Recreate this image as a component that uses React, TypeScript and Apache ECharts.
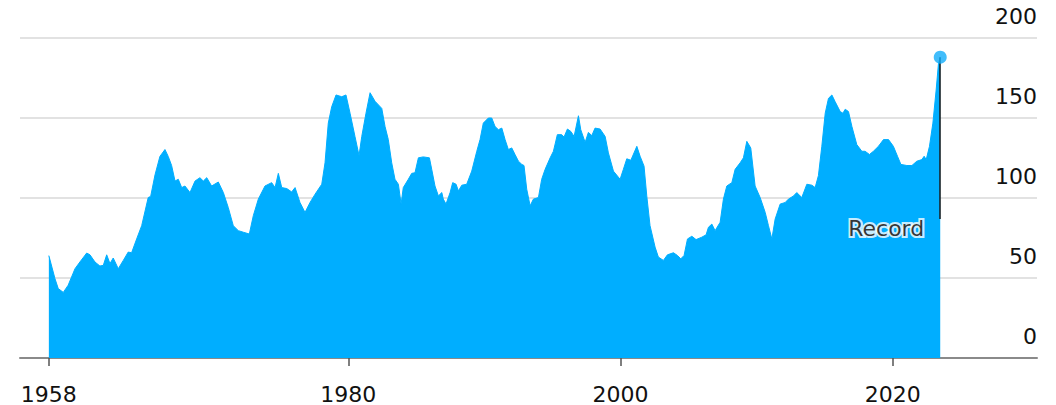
import React, { useEffect, useRef } from "react";
import * as echarts from "echarts";

const years = [
  1958.0, 1958.45, 1958.69, 1959.06, 1959.42, 1959.92, 1960.28, 1960.78, 1961.02, 1961.39,
  1961.75, 1962.0, 1962.25, 1962.49, 1962.73, 1963.1, 1963.47, 1963.83, 1964.08, 1964.45,
  1964.82, 1965.3, 1965.48, 1965.8, 1966.16, 1966.53, 1966.77, 1967.02, 1967.27, 1967.51,
  1967.76, 1968.0, 1968.37, 1968.74, 1969.1, 1969.35, 1969.6, 1969.96, 1970.45, 1970.82,
  1971.18, 1971.55, 1971.92, 1972.29, 1972.73, 1973.02, 1973.39, 1973.88, 1974.37, 1974.62,
  1974.86, 1975.11, 1975.48, 1975.84, 1976.09, 1976.45, 1976.82, 1977.19, 1977.56, 1978.05,
  1978.29, 1978.53, 1978.78, 1979.1, 1979.52, 1979.83, 1980.13, 1980.49, 1980.79, 1980.99,
  1981.3, 1981.6, 1981.96, 1982.46, 1982.7, 1982.94, 1983.19, 1983.43, 1983.68, 1983.88,
  1984.04, 1984.41, 1984.66, 1984.9, 1985.15, 1985.51, 1985.96, 1986.13, 1986.37, 1986.62,
  1986.87, 1986.98, 1987.18, 1987.48, 1987.67, 1987.92, 1988.09, 1988.34, 1988.7, 1989.07,
  1989.44, 1989.68, 1989.92, 1990.29, 1990.54, 1990.78, 1991.03, 1991.28, 1991.52, 1991.76,
  1992.01, 1992.25, 1992.5, 1992.75, 1992.91, 1993.11, 1993.36, 1993.6, 1993.97, 1994.21,
  1994.46, 1994.83, 1995.07, 1995.36, 1995.68, 1995.85, 1996.1, 1996.35, 1996.59, 1996.91,
  1997.08, 1997.4, 1997.64, 1997.89, 1998.13, 1998.5, 1998.87, 1999.11, 1999.48, 1999.97,
  2000.21, 2000.46, 2000.76, 2001.2, 2001.44, 2001.73, 2001.93, 2002.17, 2002.54, 2002.78,
  2003.15, 2003.45, 2003.89, 2004.18, 2004.43, 2004.67, 2004.92, 2005.24, 2005.55, 2005.97,
  2006.29, 2006.46, 2006.71, 2006.95, 2007.32, 2007.56, 2007.81, 2008.18, 2008.42, 2008.79,
  2009.03, 2009.28, 2009.57, 2009.89, 2010.26, 2010.63, 2010.87, 2011.12, 2011.36, 2011.73,
  2012.1, 2012.34, 2012.71, 2012.95, 2013.32, 2013.69, 2014.06, 2014.3, 2014.54, 2014.79,
  2015.04, 2015.28, 2015.53, 2015.77, 2016.14, 2016.34, 2016.51, 2016.75, 2017.0, 2017.36,
  2017.73, 2017.97, 2018.29, 2018.58, 2018.95, 2019.32, 2019.69, 2020.05, 2020.35, 2020.6,
  2021.04, 2021.41, 2021.77, 2022.14, 2022.31, 2022.46, 2022.7, 2022.95, 2023.19, 2023.36,
  2023.49,
];

const values = [
  64, 49.6, 43.4, 41, 45.5, 55.8, 60, 65.6, 64.5, 60,
  57.5, 57.9, 64.5, 59, 62.5, 55.8, 61, 66.2, 65.8, 74.4,
  82.7, 100.3, 101, 114.5, 126, 130.3, 126, 120.3, 110.6, 111.7,
  106.5, 107.5, 103.4, 110.6, 112.7, 110.6, 112.7, 107.5, 110, 103.4,
  94.1, 82.7, 79.6, 78.6, 77.5, 88.9, 99.3, 107.5, 109.6, 106.5,
  115.4, 106.5, 105.9, 103.8, 106.5, 97.2, 91, 97.2, 102.4, 108.6,
  122, 146.8, 157, 164.4, 163.3, 164.4, 153, 138.5, 126.5, 138.5,
  153, 165.8, 160.5, 156, 144.7, 136.5, 122, 111.7, 108.6, 96.2,
  106.5, 111.7, 115.4, 115.8, 125.1, 125.7, 125.1, 117.9, 107.5, 101.3,
  103.4, 99.3, 96.2, 103.4, 109.6, 108.6, 104.4, 108, 108.6, 116.8,
  129.2, 136.5, 146.8, 150, 150, 144.7, 142.7, 143.7, 136.5, 130.3,
  131.3, 127.2, 123, 121, 120.3, 105.5, 95.1, 99.3, 100.3, 111.7,
  117.9, 125.1, 129.2, 139.6, 139.6, 138.1, 143.1, 141.6, 138.5, 151.4,
  142.7, 134.8, 141, 139, 143.7, 143.1, 138.5, 128.2, 116.8, 111.7,
  117.9, 124.5, 123.6, 132.3, 126.1, 119.9, 101.3, 82.7, 69.3, 63.1,
  61, 64.5, 65.8, 64.1, 62, 64.1, 74.4, 76.1, 74, 75.5,
  77, 81.7, 83.7, 79.6, 84.8, 99.3, 107.5, 109.6, 117.9, 122,
  125.1, 135.4, 131.3, 107.5, 100.3, 91, 82.7, 74.4, 86.8, 96.2,
  97.2, 99.3, 101.3, 103.4, 100.3, 108.6, 108, 106.5, 114, 132.3,
  153, 162.3, 164.4, 160.2, 154, 153, 155.5, 154, 144.7, 133.4,
  129.2, 129.2, 127.2, 129.2, 132.3, 136.5, 136.5, 132.3, 126.1, 121,
  120.3, 120.3, 123, 124, 126.1, 124, 132.3, 146.8, 167.5, 184,
  188,
];

const xTickYears = [1958, 1980, 2000, 2020];
const yTickValues = [0, 50, 100, 150, 200];

const recordYear = 2023.49;
const recordValue = 188;
const recordLineBottom = 86.8;
const recordLabelValue = 81;
const recordLabel = "Record";

const FONT = "DejaVu Sans";

export default function App() {
  const ref = useRef<HTMLDivElement>(null);

  useEffect(() => {
    if (!ref.current) return;
    const chart = echarts.init(ref.current, null, { renderer: "svg" });
    const seriesData = years.map((y, i) => [y, values[i]]);
    const labelBase = {
      show: true,
      position: "left",
      distance: 16,
      formatter: recordLabel,
      fontFamily: FONT,
      fontSize: 22,
    };
    chart.setOption({
      animation: false,
      grid: { left: 20, right: 19, top: 38, bottom: 45, containLabel: false },
      xAxis: {
        type: "value",
        min: 1955.88,
        max: 2030.6,
        axisLine: { show: true, lineStyle: { color: "#8a8a8a", width: 2 } },
        axisTick: {
          show: true,
          customValues: xTickYears,
          length: 8,
          lineStyle: { color: "#555", width: 1.5 },
        },
        axisLabel: {
          customValues: xTickYears,
          formatter: (v: number) => String(Math.round(v)),
          fontFamily: FONT,
          fontSize: 22,
          color: "#111",
          margin: 25,
        },
        splitLine: { show: false },
      },
      yAxis: {
        type: "value",
        position: "right",
        min: yTickValues[0],
        max: yTickValues[yTickValues.length - 1],
        interval: 50,
        axisLine: { show: false },
        axisTick: { show: false },
        axisLabel: {
          inside: true,
          align: "right",
          verticalAlign: "bottom",
          margin: 0,
          lineHeight: 22,
          padding: [0, 0, 11, 0],
          fontFamily: FONT,
          fontSize: 22,
          color: "#111",
        },
        splitLine: { show: true, lineStyle: { color: "#e2e2e2", width: 2 } },
      },
      series: [
        {
          type: "line",
          data: seriesData,
          showSymbol: false,
          symbol: "none",
          lineStyle: { color: "#00AEFF", width: 1 },
          areaStyle: { color: "#00AEFF", opacity: 1 },
          z: 2,
          markLine: {
            silent: true,
            symbol: ["none", "none"],
            label: { show: false },
            lineStyle: { color: "#1a1a1a", width: 1.5, type: "solid" },
            data: [
              [
                { coord: [recordYear, recordValue] },
                { coord: [recordYear, recordLineBottom] },
              ],
            ],
          },
        },
        {
          type: "scatter",
          data: [[recordYear, recordValue]],
          symbolSize: 13,
          itemStyle: { color: "#12ACFA" },
          z: 5,
        },
        {
          type: "scatter",
          data: [[recordYear, recordLabelValue]],
          symbolSize: 0,
          z: 6,
          label: {
            ...labelBase,
            color: "#ffffff",
            textBorderColor: "#ffffff",
            textBorderWidth: 4,
          },
        },
        {
          type: "scatter",
          data: [[recordYear, recordLabelValue]],
          symbolSize: 0,
          z: 7,
          label: {
            ...labelBase,
            color: "#000",
          },
        },
      ],
    });
    return () => chart.dispose();
  }, []);

  return (
    <div
      ref={ref}
      style={{ position: "fixed", left: 0, top: 0, width: 1056, height: 405, background: "#fff" }}
    />
  );
}
